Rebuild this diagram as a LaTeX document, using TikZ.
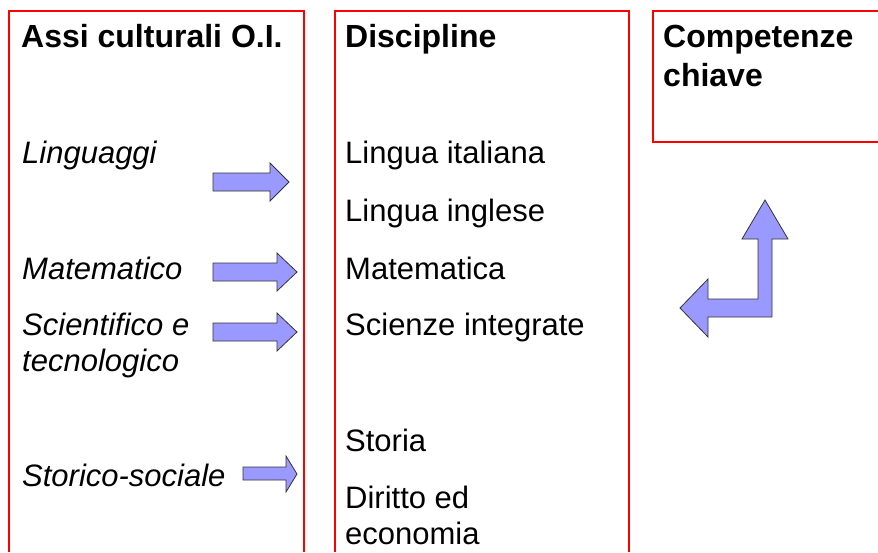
\documentclass[tikz,border=0pt]{standalone}
\usepackage{fontspec}
\setmainfont{Liberation Sans}
\usepackage{tikz}
\usetikzlibrary{arrows.meta}

\definecolor{arrowfill}{RGB}{153,153,255}
\definecolor{boxline}{RGB}{255,0,0}
\tikzset{
  colline/.style={draw=boxline, line width=1.2pt},
  blockarrow/.style={fill=arrowfill, draw=black!80, line width=0.8pt, line join=miter},
  head/.style={anchor=base west, inner sep=0pt, font=\bfseries\fontsize{32}{38.5}\selectfont, align=left},
  asse/.style={anchor=base west, inner sep=0pt, font=\itshape\fontsize{31}{36}\selectfont, align=left},
  disc/.style={anchor=base west, inner sep=0pt, font=\fontsize{31}{36}\selectfont, align=left}
}

\begin{document}
\begin{tikzpicture}[x=1pt, y=-1pt]
        \useasboundingbox (0,0) rectangle (878,552);
        % columns
        \draw[colline] (9,552)--(9,11)--(304,11)--(304,552);
        \draw[colline] (335,552)--(335,11)--(629,11)--(629,552);
        \draw[colline] (878,11)--(653,11)--(653,142)--(878,142);
        % headings (multi-line nodes sit on their last baseline)
        \node[head] (assi) at (21,47) {Assi culturali O.I.};
        \node[head] (discipline) at (345,47) {Discipline};
        \node[head] (competenze) at (663,86) {Competenze\\chiave};
        % assi
        \node[asse] (linguaggi) at (22,163) {Linguaggi};
        \node[asse] (matematico) at (22,279) {Matematico};
        \node[asse] (scientifico) at (22,371) {Scientifico e\\tecnologico};
        \node[asse] (storico) at (22,486) {Storico-sociale};
        % discipline
        \node[disc] (italiano) at (345,163) {Lingua italiana};
        \node[disc] (inglese) at (345,221) {Lingua inglese};
        \node[disc] (matematica) at (345,279) {Matematica};
        \node[disc] (scienze) at (345,335) {Scienze integrate};
        \node[disc] (storia) at (345,451) {Storia};
        \node[disc] (diritto) at (345,544) {Diritto ed\\economia};
        % block arrows
        \filldraw[blockarrow] (213,173)--(270,173)--(270,163)--(289,182)--(270,201)--(270,191)--(213,191)--cycle;
        \filldraw[blockarrow] (213,263)--(277,263)--(277,253)--(297,272)--(277,291)--(277,281)--(213,281)--cycle;
        \filldraw[blockarrow] (213,323)--(277,323)--(277,313)--(297,332)--(277,351)--(277,341)--(213,341)--cycle;
        \filldraw[blockarrow] (243,467)--(286,467)--(286,456)--(297,474)--(286,492)--(286,480)--(243,480)--cycle;
        \filldraw[blockarrow] (765,200)--(788,239)--(772,239)--(772,317)--(708,317)--(708,337)--(680,308)--(708,279)--(708,299)--(758,299)--(758,239)--(742,239)--cycle;
\end{tikzpicture}
\end{document}
